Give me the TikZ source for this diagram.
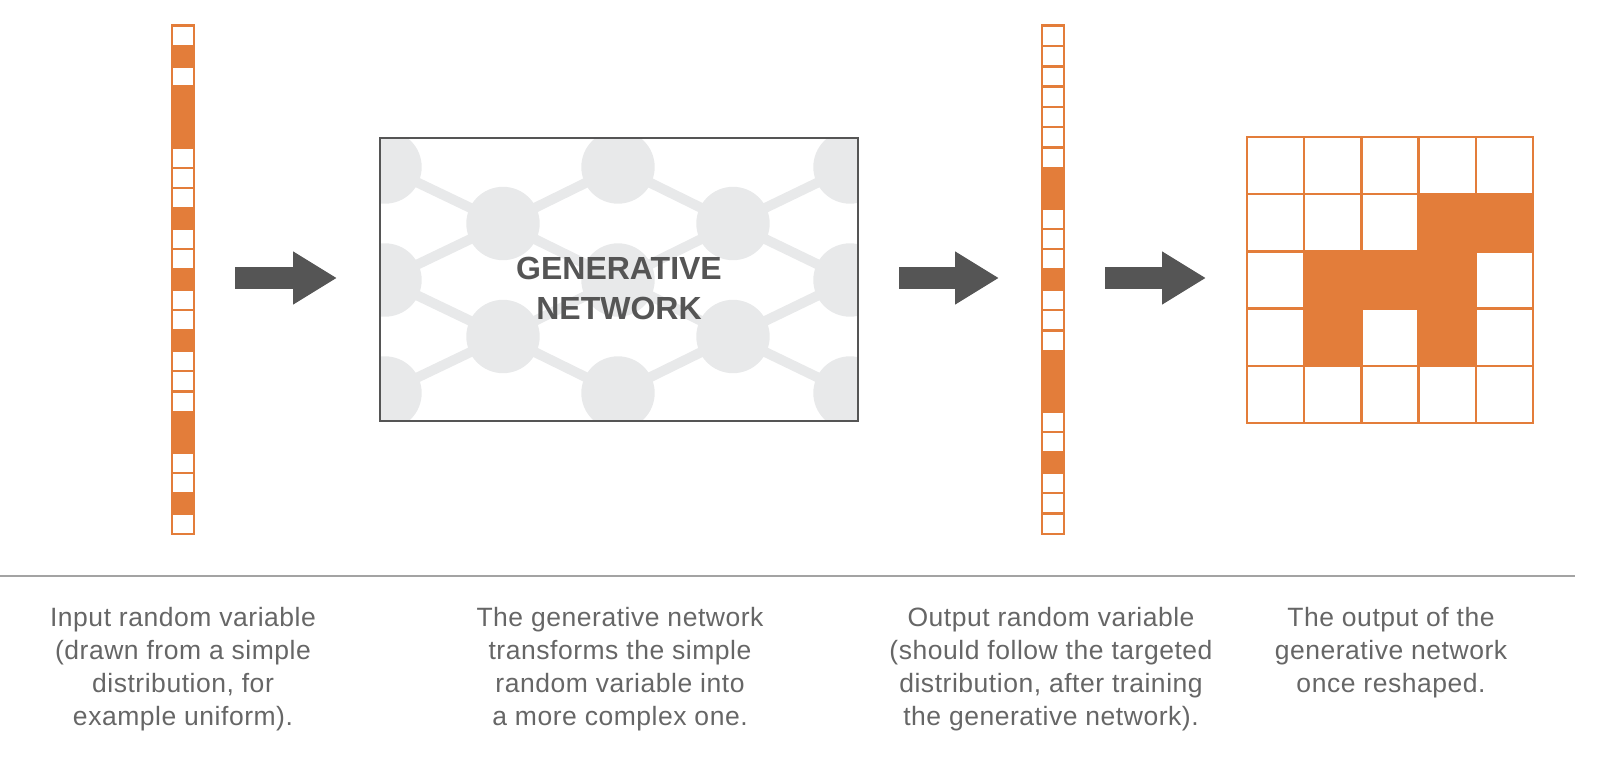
\documentclass[tikz,border=0pt]{standalone}
\usepackage{fontspec}
\setmainfont{Liberation Sans}
\newfontfamily\captionfont[LetterSpace=2]{Liberation Sans}
\usetikzlibrary{arrows.meta}

\definecolor{vecorange}{HTML}{E37D3A}
\definecolor{darkgrey}{HTML}{555555}
\definecolor{latticegrey}{HTML}{E8E9EA}
\definecolor{captiongrey}{HTML}{666666}
\definecolor{rulegrey}{HTML}{A3A3A3}
\colorlet{o}{vecorange}
\colorlet{w}{white}

\tikzset{
  cellbox/.style={draw=vecorange, line width=2.4pt, minimum width=22pt,
    minimum height=20.32pt, inner sep=0pt, outer sep=0pt},
  gridcell/.style={draw=vecorange, line width=2.4pt, minimum size=57.2pt,
    inner sep=0pt, outer sep=0pt},
  holder/.style={inner sep=0pt, outer sep=0pt},
  blockarrow/.style={draw=darkgrey, line width=21pt,
    -{Triangle[length=44pt,width=50pt]}},
  latnode/.style={circle, fill=latticegrey, minimum size=73.4pt, inner sep=0pt},
  latedge/.style={draw=latticegrey, line width=10pt},
  caption/.style={font=\captionfont\fontsize{26.5}{33.3}\selectfont,
    text=captiongrey, align=center, anchor=base, inner sep=0pt},
}

\begin{document}
\begin{tikzpicture}[x=1pt,y=-1pt]
\useasboundingbox (0,0) rectangle (1607,762);

% input random vector
\node[holder, minimum width=22pt, minimum height=508pt] (invec) at (183,279.7) {};
\foreach \c [count=\i] in {w,o,w,o,o,o,w,w,w,o,w,w,o,w,w,o,w,w,w,o,o,w,w,o,w}
  \node[cellbox, fill=\c] (in-\i) at (183,{25.7+20.32*(\i-0.5)}) {};

% output random vector
\node[holder, minimum width=22pt, minimum height=508pt] (outvec) at (1053,279.7) {};
\foreach \c [count=\i] in {w,w,w,w,w,w,w,o,o,w,w,w,o,w,w,w,o,o,o,w,w,o,w,w,w}
  \node[cellbox, fill=\c] (out-\i) at (1053,{25.7+20.32*(\i-0.5)}) {};

% generative network box with its lattice
\node[holder, minimum width=478pt, minimum height=283pt] (net) at (619,279.5) {};
\begin{scope}
  \clip (net.south west) rectangle (net.north east);
  \foreach \r/\y in {1/167,3/280,5/393}
    \foreach \k/\x in {1/385,3/618,5/850}
      \node[latnode] (n\r\k) at (\x,\y) {};
  \foreach \r/\y in {2/223.5,4/336.5}
    \foreach \k/\x in {2/503,4/733}
      \node[latnode] (n\r\k) at (\x,\y) {};
  \foreach \r/\a/\b in {2/1/3,4/3/5}
    \foreach \k/\l/\m in {2/1/3,4/3/5} {
      \draw[latedge] (n\r\k.center) -- (n\a\l.center);
      \draw[latedge] (n\r\k.center) -- (n\a\m.center);
      \draw[latedge] (n\r\k.center) -- (n\b\l.center);
      \draw[latedge] (n\r\k.center) -- (n\b\m.center);
    }
\end{scope}
\draw[darkgrey, line width=2.5pt] (net.south west) rectangle (net.north east);
\node[font=\bfseries\fontsize{32}{40}\selectfont, text=darkgrey, align=center,
  inner sep=0pt] (netlabel) at (619,288.3) {GENERATIVE\\NETWORK};

% reshaped output grid
\node[holder, minimum size=286pt] (grid) at (1390,279.5) {};
\foreach \rowfill [count=\r] in {{w,w,w,w,w},{w,w,w,o,o},{w,o,o,o,w},{w,o,w,o,w},{w,w,w,w,w}}
  \foreach \c [count=\k] in \rowfill
    \node[gridcell, fill=\c] (g-\r-\k) at ({1247+57.2*(\k-0.5)},{137+57.2*(\r-0.5)}) {};

% arrows between the stages
\draw[blockarrow, shorten <=41pt, shorten >=43pt] (invec.east |- 0,278) -- (net.west |- 0,278);
\draw[blockarrow, shorten <=41pt, shorten >=43pt] (net.east |- 0,278) -- (outvec.west |- 0,278);
\draw[blockarrow, shorten <=41pt, shorten >=41pt] (outvec.east |- 0,278) -- (grid.west |- 0,278);

% separator rule
\coordinate (ruleL) at (0,576);
\coordinate (ruleR) at (1575,576);
\draw[rulegrey, line width=1.5pt] (ruleL) -- (ruleR);

% captions (base anchor sits on the last line)
\node[caption] (cap1) at (183,725.9) {Input random variable\\(drawn from a simple\\distribution, for\\example uniform).};
\node[caption] (cap2) at (620,725.9) {The generative network\\transforms the simple\\random variable into\\a more complex one.};
\node[caption] (cap3) at (1051,725.9) {Output random variable\\(should follow the targeted\\distribution, after training\\the generative network).};
\node[caption] (cap4) at (1391,692.6) {The output of the\\generative network\\once reshaped.};
\end{tikzpicture}
\end{document}
